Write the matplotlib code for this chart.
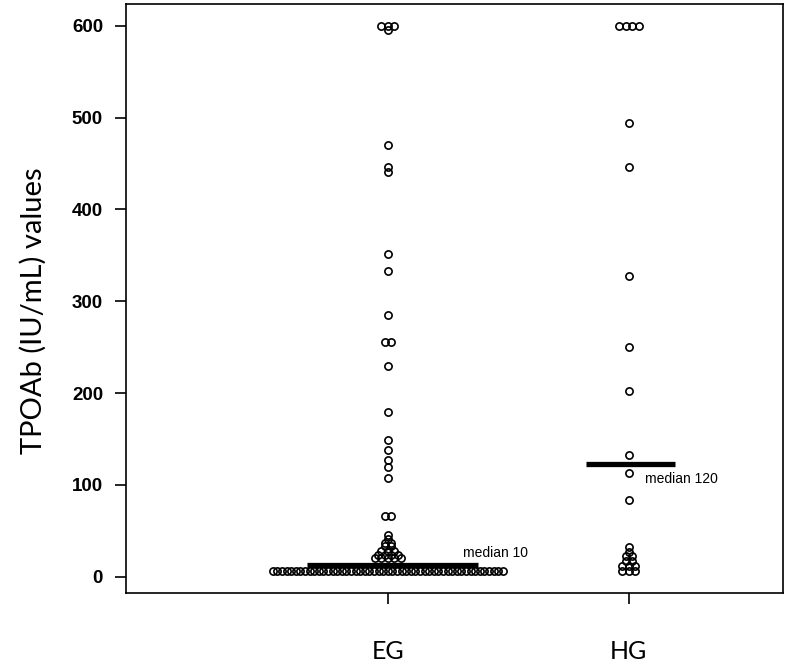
import numpy as np
import matplotlib
matplotlib.use("Agg")
import matplotlib.pyplot as plt

# ---- data ----
groups = ["EG", "HG"]
eg_values = [600, 595, 470, 446, 441, 351, 333, 285, 256, 230, 179, 149, 138,
             127, 119, 108, 66, 45, 41, 37, 33, 28, 24, 20, 6]
eg_counts = [3, 1, 1, 1, 1, 1, 1, 1, 2, 1, 1, 1, 1,
             1, 1, 1, 2, 1, 1, 2, 2, 3, 4, 5, 51]
hg_values = [600, 494, 446, 327, 250, 202, 132, 113, 83, 32, 27, 22, 17, 12, 6]
hg_counts = [4, 1, 1, 1, 1, 1, 1, 1, 1, 1, 1, 2, 2, 3, 3]
medians = [13, 123]
median_labels = ["median 10", "median 120"]
yticks = [0, 100, 200, 300, 400, 500, 600]

# ---- figure ----
W, H = 787, 663
fig = plt.figure(figsize=(W / 100, H / 100), dpi=100)
ax = fig.add_axes([126 / W, 1 - 593 / H, (783 - 126) / W, (593 - 4) / H])
xlim = (-0.087, 2.64)
ax.set_xlim(*xlim)
ax.set_ylim(-17.8, 623.8)
px_per_unit = (783 - 126) / (xlim[1] - xlim[0])

def stacked(pos, values, counts):
    xs, ys = [], []
    for v, n in zip(values, counts):
        sp = 4.6 if n > 10 else 6.5
        for i in range(n):
            xs.append(pos + (i - (n - 1) / 2) * sp / px_per_unit)
            ys.append(v)
    return xs, ys

for pos, vals, cnts in [(1, eg_values, eg_counts), (2, hg_values, hg_counts)]:
    xs, ys = stacked(pos, vals, cnts)
    ax.plot(xs, ys, linestyle="none", marker="o", markersize=5.2,
            markerfacecolor="none", markeredgecolor="black",
            markeredgewidth=1.2, zorder=3)

# median bars
half = [(-0.336, 0.373), (-0.178, 0.191)]
for pos, m, (a, b) in zip([1, 2], medians, half):
    ax.plot([pos + a, pos + b], [m, m], color="black", lw=3.8,
            solid_capstyle="butt", zorder=4)

ax.text(1.311, 26, median_labels[0], fontsize=10, family="Liberation Sans",
        va="center", ha="left")
ax.text(2.066, 106, median_labels[1], fontsize=10, family="Liberation Sans",
        va="center", ha="left")

# axes styling
ax.set_yticks(yticks)
ax.set_yticklabels([str(t) for t in yticks], fontsize=13.5,
                   family="Liberation Sans", fontweight="bold")
ax.set_xticks([1, 2])
ax.set_xticklabels(groups, fontsize=18, family="Lato")
ax.tick_params(axis="y", length=8, width=1.2, pad=8.5)
ax.tick_params(axis="x", length=8, width=1.2, pad=26)
for s in ax.spines.values():
    s.set_linewidth(1.2)
ax.set_ylabel("TPOAb (IU/mL) values", fontsize=21, family="Lato")
ax.yaxis.set_label_coords(-0.12, 0.48)

fig.savefig("out.png", dpi=100)
